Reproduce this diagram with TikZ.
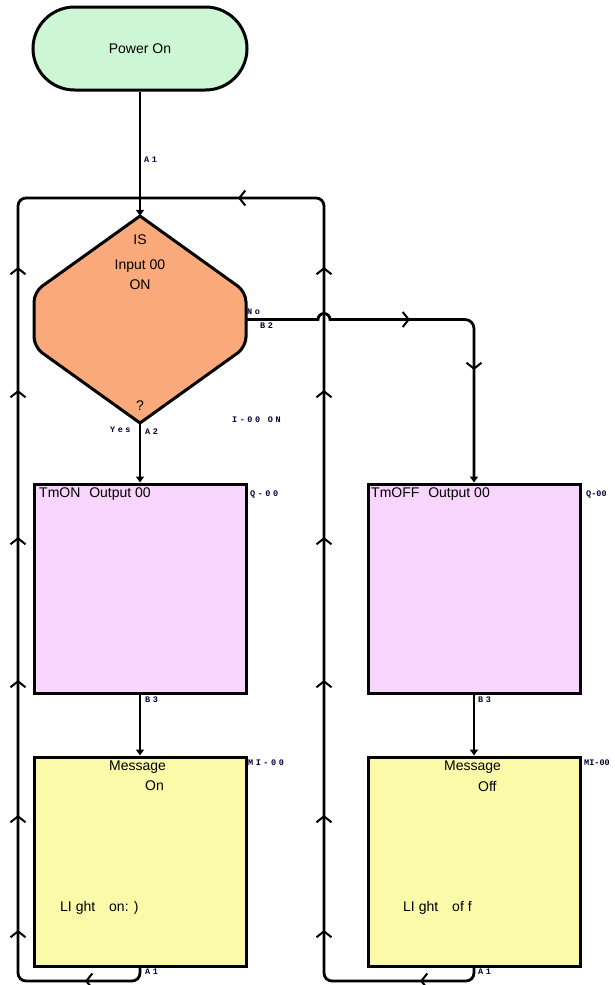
\documentclass[tikz,border=0pt]{standalone}
\usepackage{fontspec}
\setmainfont{Liberation Sans}
\newfontfamily\lblfont[LetterSpace=30]{Liberation Mono}
\newfontfamily\lbledgefont{Liberation Mono}
\usetikzlibrary{arrows.meta,decorations.markings,shapes.misc}
\definecolor{termgreen}{HTML}{CCF6D4}
\definecolor{decorange}{HTML}{F9A97A}
\definecolor{outpink}{HTML}{F8D5FC}
\definecolor{msgyellow}{HTML}{FAFAA8}
\begin{document}
\begin{tikzpicture}[x=1pt,y=-1pt,
  flow/.style={line width=2.8pt, draw=black},
  endtip/.style={-{Triangle[length=6pt,width=8pt]}},
  chev/.style={decorate, decoration={markings, mark=at position 0.5 with {\arrow{Straight Barb[length=6pt,width=15pt,line width=2pt]}}}},
  boxline/.style={draw=black, line width=3pt, inner sep=0},
  pinkbox/.style={boxline, fill=outpink, minimum width=212, minimum height=209},
  yelbox/.style={boxline, fill=msgyellow, minimum width=212, minimum height=209},
  txt/.style={font=\fontsize{14}{16}\selectfont, inner sep=0},
  lbl/.style={font=\lblfont\fontsize{8.5}{9}\selectfont\bfseries, inner sep=0, anchor=west, text=black!80!blue},
  lbledge/.style={lbl, font=\lbledgefont\fontsize{8.5}{9}\selectfont\bfseries}
]
\useasboundingbox (0,0) rectangle (615,985);
\clip (0,0) rectangle (615,985);

% ---- shapes ----
\node[rounded rectangle, boxline, fill=termgreen, minimum width=214, minimum height=83, txt] (power) at (140,48.5) {Power On};

\node[minimum width=212, minimum height=207, inner sep=0] (dec) at (140,319.5) {};
\draw[line width=3pt, fill=decorange]
  (140,216) [rounded corners=10] -- (246,292) -- (246,347) [sharp corners] -- (140,423)
  [rounded corners=10] -- (34,347) -- (34,292) [sharp corners] -- cycle;
\node[txt] (t1) at (140,240) {IS};
\node[txt] (t2) at (140,266) {Input 00};
\node[txt] (t3) at (140,285) {ON};
\node[txt] (t4) at (140,406) {?};

\node[pinkbox] (ton) at (140,588.5) {};
\node[pinkbox] (toff) at (474,588.5) {};
\node[yelbox] (mon) at (140,861.5) {};
\node[yelbox] (moff) at (474,861.5) {};

\node[txt, anchor=west] (ton-t) at (39,494) {TmON\hspace{5pt} Output 00};
\node[txt, anchor=west] (toff-t) at (371,494) {TmOFF\hspace{5pt} Output 00};
\node[txt, anchor=west] (mon-t1) at (109,767) {Message};
\node[txt, anchor=west] (mon-t2) at (145,786) {On};
\node[txt, anchor=west] (moff-t1) at (444,767) {Message};
\node[txt, anchor=west] (moff-t2) at (478,786) {Off};
\node[txt, anchor=west] (mon-t3) at (60,908) {LI ght\hspace{14pt}on: )};
\node[txt, anchor=west] (moff-t3) at (403,908) {LI ght\hspace{14pt}of f};

% ---- loop coordinates ----
\coordinate (j) at (140,198);
\coordinate (tl) at (18,198);
\coordinate (tr) at (324,198);
\coordinate (bl) at (18,981);
\coordinate (br) at (324,981);
\coordinate (blc) at (140,981);
\coordinate (brc) at (474,981);
\coordinate (nocorner) at (474,319.5);
\coordinate (hopin) at (318,319.5);

% ---- connectors ----
\draw[flow, endtip] (power.south) -- (dec.north);
\draw[flow, endtip] (dec.south) -- (ton.north);
\draw[flow, endtip] (dec.east) -- (hopin) arc[start angle=180, end angle=360, radius=6] [rounded corners=9] -- (nocorner) -- (toff.north);
\draw[flow, endtip] (ton.south) -- (mon.north);
\draw[flow, endtip] (toff.south) -- (moff.north);
\draw[flow, rounded corners=8] (mon.south) -- (blc) -- (bl) -- (tl) -- (j);
\draw[flow, rounded corners=8] (moff.south) -- (brc) -- (br) -- (tr) -- (j);

% ---- chevrons along connectors ----
\foreach \yy in {267,390,537,680,815,930} {
  \path[chev] (18,\yy+5) -- (18,\yy-5);
  \path[chev] (324,\yy+5) -- (324,\yy-5);
}
\path[chev] (243,198) -- (233,198);
\path[chev] (90,981) -- (80,981);
\path[chev] (425,981) -- (415,981);
\path[chev] (405,319.5) -- (415,319.5);
\path[chev] (474,365) -- (474,375);

% ---- labels ----
\node[lbl] (l1) at (144,160) {A1};
\node[lbl] (l2) at (247,312) {No};
\node[lbl] (l3) at (260,326) {B2};
\node[lbl] (l4) at (110,430) {Yes};
\node[lbl] (l5) at (145,432) {A2};
\node[lbl] (l6) at (232,420) {I-00 ON};
\node[lbl] (l7) at (250,494) {Q-00};
\node[lbledge] (l8) at (586,494) {Q-00};
\node[lbl] (l9) at (145,700) {B3};
\node[lbl] (l10) at (478,700) {B3};
\node[lbl] (l11) at (248,763) {MI-00};
\node[lbledge] (l12) at (584,763) {MI-00};
\node[lbl] (l13) at (145,972) {A1};
\node[lbl] (l14) at (478,972) {A1};
\end{tikzpicture}
\end{document}
